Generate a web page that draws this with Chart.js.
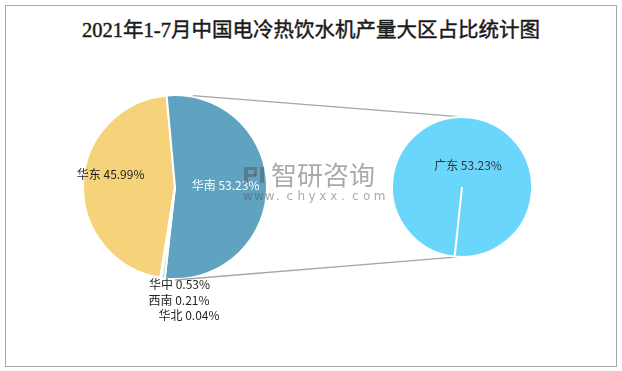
<!DOCTYPE html>
<html><head><meta charset="utf-8">
<script src="https://cdn.jsdelivr.net/npm/chart.js@4.4.1/dist/chart.umd.min.js"></script>
<style>
html,body{margin:0;padding:0;background:#fff;}
#wrap{position:relative;width:622px;height:371px;overflow:hidden;background:#fff;}
#frame{position:absolute;left:5px;top:5px;width:612px;height:362px;border:1px solid #a6a6a6;box-sizing:border-box;}
#title{position:absolute;left:0;top:17px;width:622px;text-align:center;font-weight:normal;font-size:20.5px;font-family:"Liberation Serif","Noto Sans CJK SC",serif;color:#1a1a1a;line-height:26px;-webkit-text-stroke:0.45px #1a1a1a;}
canvas{position:absolute;left:0;top:0;}
</style></head><body>
<div id="wrap">
<div id="frame"></div>
<div id="title">2021年1-7月中国电冷热饮水机产量大区占比统计图</div>
<canvas id="c1" width="622" height="371"></canvas>
<canvas id="c2" width="622" height="371"></canvas>
</div>
<script>
// ---- data ----
const regionLabels = ['华东', '华南', '华中', '西南', '华北'];
const regionShares = [45.99, 53.23, 0.53, 0.21, 0.04];
const provinceLabels = ['广东'];
const provinceShares = [53.23];

// ---- styles ----
const regionColors = ['#F6D27B', '#5FA3C1', '#9CC6DD', '#B9D7E8', '#D3E6F1'];
const provinceColors = ['#6AD6FC'];
const labelFont = '12px "Noto Sans CJK SC", "Noto Sans", sans-serif';
// per-label placement relative to the slice / pie geometry
const regionLabelPlace = [
  {mode: 'mid', r: 0.70, dx: 0, dy: -10, color: '#1f1f1f'},
  {mode: 'mid', r: 0.55, dx: 0, dy: -2, color: '#ffffff'},
  {mode: 'below', dx: 4.5, dy: 5, color: '#1f1f1f'},
  {mode: 'below', dx: 4, dy: 21.5, color: '#1f1f1f'},
  {mode: 'below', dx: 14, dy: 36.5, color: '#1f1f1f'}
];
const provinceLabelPlace = [{mode: 'center', dx: 6, dy: -21.5, color: '#333333'}];

function fmt(v) { return v.toFixed(2) + '%'; }

function makeLabelPlugin(labels, values, places) {
  return {
    id: 'sliceLabels',
    afterDatasetsDraw(chart) {
      const ctx = chart.ctx;
      const arcs = chart.getDatasetMeta(0).data;
      ctx.save();
      ctx.font = labelFont;
      ctx.textAlign = 'center';
      ctx.textBaseline = 'middle';
      arcs.forEach((arc, i) => {
        const p = places[i];
        const {x, y, startAngle, endAngle, outerRadius} = arc.getProps(['x', 'y', 'startAngle', 'endAngle', 'outerRadius'], true);
        let px, py;
        if (p.mode === 'mid') {
          const a = (startAngle + endAngle) / 2;
          px = x + Math.cos(a) * outerRadius * p.r;
          py = y + Math.sin(a) * outerRadius * p.r;
        } else if (p.mode === 'below') {
          px = x; py = y + outerRadius;
        } else {
          px = x; py = y;
        }
        ctx.fillStyle = p.color;
        ctx.fillText(labels[i] + ' ' + fmt(values[i]), px + p.dx, py + p.dy);
      });
      ctx.restore();
    }
  };
}

const c1 = new Chart(document.getElementById('c1'), {
  type: 'pie',
  data: {labels: regionLabels, datasets: [{data: regionShares, backgroundColor: regionColors, borderColor: '#ffffff', borderWidth: 2}]},
  options: {
    responsive: false, animation: false, devicePixelRatio: 1, events: [],
    rotation: -170.8, radius: 92,
    layout: {padding: {left: 83, right: 355, top: 95, bottom: 92}},
    plugins: {legend: {display: false}, tooltip: {enabled: false}}
  },
  plugins: [makeLabelPlugin(regionLabels, regionShares, regionLabelPlace)]
});

// connector lines between the two pies + watermark
const connectorPlugin = {
  id: 'connectors',
  beforeDatasetsDraw(chart) {
    const a1 = c1.getDatasetMeta(0).data[0];
    const a2 = chart.getDatasetMeta(0).data[0];
    const pt = (arc, deg, extra) => {
      const r = arc.outerRadius + extra;
      const t = (deg - 90) * Math.PI / 180;
      return [arc.x + Math.cos(t) * r, arc.y + Math.sin(t) * r];
    };
    const ctx = chart.ctx;
    ctx.save();
    ctx.strokeStyle = '#A6A6A6';
    ctx.lineWidth = 1.3;
    const pairs = [[11, 2.5], [180, 183]];
    pairs.forEach(([d1, d2]) => {
      const p1 = pt(a1, d1, 1), p2 = pt(a2, d2, 0);
      ctx.beginPath(); ctx.moveTo(p1[0], p1[1]); ctx.lineTo(p2[0], p2[1]); ctx.stroke();
    });
    ctx.restore();
  },
  afterDraw(chart) {
    const ctx = chart.ctx;
    ctx.save();
    ctx.fillStyle = 'rgba(85,85,85,0.5)';
    ctx.textBaseline = 'middle';
    ctx.textAlign = 'left';
    ctx.font = '26px "Noto Sans CJK SC", sans-serif';
    ctx.fillText('智研咨询', 271, 175);
    ctx.font = '12px "DejaVu Sans", sans-serif';
    const s = 'www.chyxx.com';
    let x = 243;
    for (const ch of s) { ctx.fillText(ch, x, 197); x += 10.9; }
    // simple logo blocks
    ctx.fillRect(244, 167, 4, 16);
    ctx.fillRect(248, 167, 9, 3);
    ctx.fillRect(254, 170, 3, 6);
    ctx.fillRect(248, 174, 8, 3);
    ctx.fillRect(260, 167, 4, 16);
    ctx.restore();
  }
};

const c2 = new Chart(document.getElementById('c2'), {
  type: 'pie',
  data: {labels: provinceLabels, datasets: [{data: provinceShares, backgroundColor: provinceColors, borderColor: '#ffffff', borderWidth: 2}]},
  options: {
    responsive: false, animation: false, devicePixelRatio: 1, events: [],
    rotation: 186, radius: 70,
    layout: {padding: {left: 392, right: 90, top: 117, bottom: 114}},
    plugins: {legend: {display: false}, tooltip: {enabled: false}}
  },
  plugins: [connectorPlugin, makeLabelPlugin(provinceLabels, provinceShares, provinceLabelPlace)]
});
</script>
</body></html>
